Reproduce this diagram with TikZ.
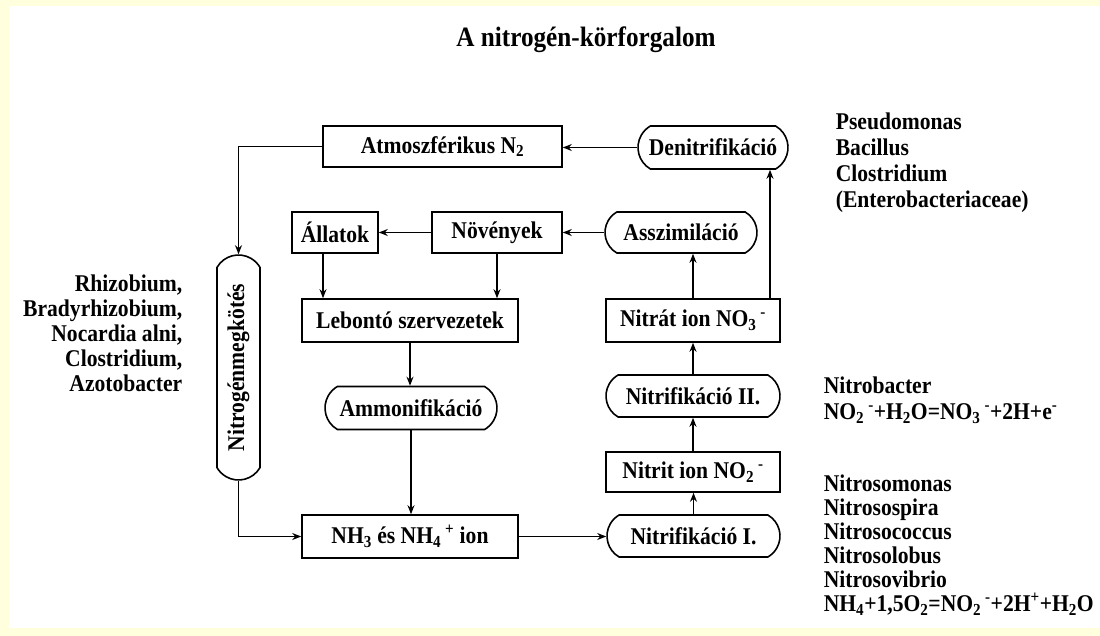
\documentclass[tikz,border=0pt]{standalone}
\usepackage{fontspec}
\setmainfont{Liberation Serif}[FakeStretch=0.9]
\usetikzlibrary{arrows.meta,shapes.misc}
\definecolor{paper}{RGB}{255,255,222}
\begin{document}
\begin{tikzpicture}[x=1pt,y=-1pt,
  line width=1.6pt,
  txt/.style={font=\fontsize{24}{26}\selectfont\bfseries, inner sep=0pt},
  sz/.style 2 args={minimum width=#1pt, minimum height=#2pt},
  box/.style={txt, draw, rectangle},
  proc/.style={txt, draw, rounded rectangle, rounded rectangle arc length=120},
  arr/.style={-{Stealth[length=9pt,width=7pt]}},
  ]
% page and panel
\fill[paper] (0,0) rectangle (1100,636);
\fill[white] (9,6) rectangle (1100,628);
\useasboundingbox (0,0) rectangle (1100,636);

% title
\node[txt, font=\fontsize{28}{30}\selectfont\bfseries, anchor=base] (title) at (586,47) {A nitrogén-körforgalom};

% stages of the cycle
\node[box,  sz={239}{41}] (atm)    at (442.5,146.5) {Atmoszférikus N\textsubscript{2}};
\node[proc, sz={150}{43}] (denit)  at (713,147.5)   {Denitrifikáció};
\node[box,  sz={86}{41}]  (allat)  at (335,232.5)   {Állatok};
\node[box,  sz={130}{41}] (noveny) at (497,232.5)   {Növények};
\node[proc, sz={152}{41}] (assz)   at (681,232.5)   {Asszimiláció};
\node[box,  sz={216}{43}] (lebont) at (410,320.5)   {Lebontó szervezetek};
\node[proc, sz={172}{43}] (ammon)  at (411,408)     {Ammonifikáció};
\node[box,  sz={216}{43}] (nh)     at (410,536.5)   {NH\textsubscript{3} és NH\textsubscript{4}\,\textsuperscript{+} ion};
\node[box,  sz={174}{43}] (nitrat) at (693,320.5)   {Nitrát ion NO\textsubscript{3}\,\textsuperscript{-}};
\node[proc, sz={174}{42}] (nitrII) at (693,396)     {Nitrifikáció II.};
\node[box,  sz={174}{40}] (nitrit) at (693,472)     {Nitrit ion NO\textsubscript{2}\,\textsuperscript{-}};
\node[proc, sz={173}{42}] (nitrI)  at (693.5,536)   {Nitrifikáció I.};
\node[proc, sz={225}{43}, rotate=90] (nfix) at (238.5,367.5) {Nitrogénmegkötés};

% connectors
\draw[arr] (denit.west) -- (denit.west -| atm.east);
\draw[arr] (atm.west) -| (nfix.east);
\draw[arr] (noveny.west) -- (allat.east);
\draw[arr] (assz.west) -- (assz.west -| noveny.east);
\draw[arr] ([xshift=-12pt]allat.south) -- ([xshift=-12pt]allat.south |- lebont.north);
\draw[arr] (noveny.south) -- (noveny.south |- lebont.north);
\draw[arr] (lebont.south) -- (lebont.south |- ammon.north);
\draw[arr] (ammon.south) -- (ammon.south |- nh.north);
\draw[arr] (nfix.west) |- (nh.west);
\draw[arr] (nh.east) -- (nh.east -| nitrI.west);
\draw[arr] (nitrI.north) -- (nitrI.north |- nitrit.south);
\draw[arr] (nitrit.north) -- (nitrit.north |- nitrII.south);
\draw[arr] (nitrII.north) -- (nitrII.north |- nitrat.south);
\draw[arr] (nitrat.north) -- (nitrat.north |- assz.south);
\draw[arr] ([xshift=77pt]nitrat.north) -- ([xshift=77pt]nitrat.north |- denit.south);

% organisms and reactions
\node[txt, align=left, anchor=north west] (denitorg) at (835,112)
  {Pseudomonas\\Bacillus\\Clostridium\\(Enterobacteriaceae)};
\node[txt, align=right, anchor=north east, font=\fontsize{24}{25}\selectfont\bfseries] (fixorg) at (183,274)
  {Rhizobium,\\Bradyrhizobium,\\Nocardia alni,\\Clostridium,\\Azotobacter};
\node[txt, align=left, anchor=north west] (nitrobact) at (823,376)
  {Nitrobacter\\NO\textsubscript{2}\,\textsuperscript{-}+H\textsubscript{2}O=NO\textsubscript{3}\,\textsuperscript{-}+2H+e\textsuperscript{-}};
\node[txt, align=left, anchor=north west, font=\fontsize{24}{24}\selectfont\bfseries] (nitroso) at (823,474)
  {Nitrosomonas\\Nitrosospira\\Nitrosococcus\\Nitrosolobus\\Nitrosovibrio\\NH\textsubscript{4}+1,5O\textsubscript{2}=NO\textsubscript{2}\,\textsuperscript{-}+2H\textsuperscript{+}+H\textsubscript{2}O};
\end{tikzpicture}
\end{document}
